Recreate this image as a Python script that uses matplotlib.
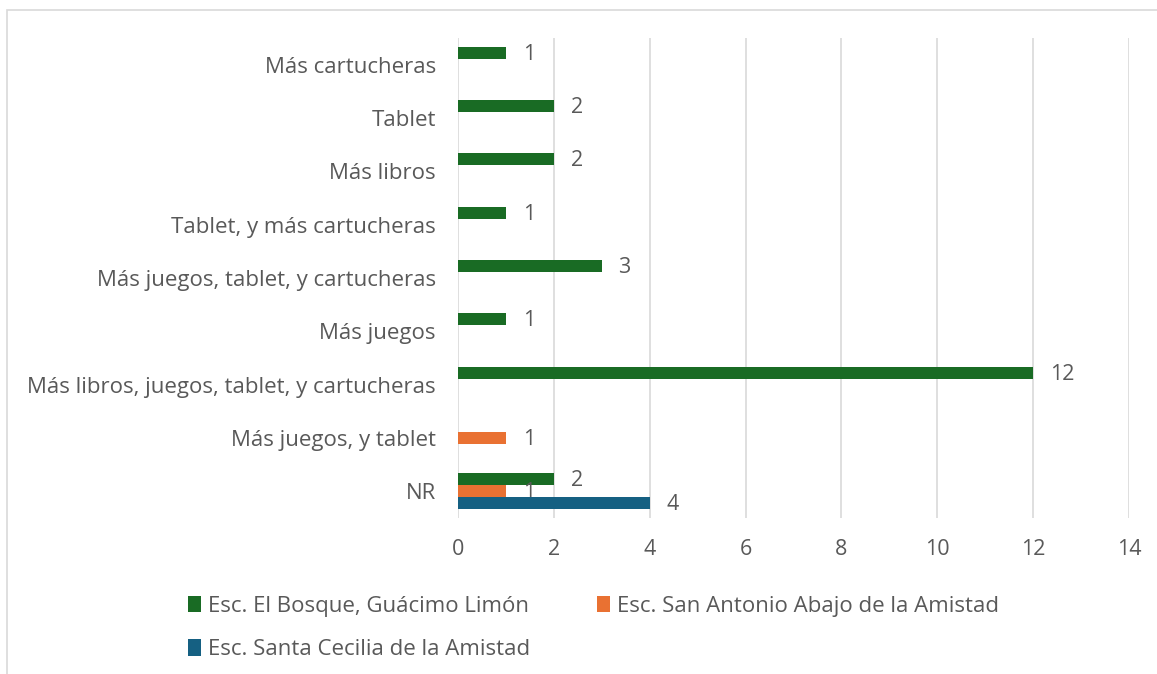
import numpy as np
import matplotlib.pyplot as plt
from matplotlib.patches import Rectangle

categories = ['Más cartucheras', 'Tablet', 'Más libros', 'Tablet, y más cartucheras',
              'Más juegos, tablet, y cartucheras', 'Más juegos',
              'Más libros, juegos, tablet, y cartucheras', 'Más juegos, y tablet', 'NR']
series_names = ['Esc. El Bosque, Guácimo Limón', 'Esc. San Antonio Abajo de la Amistad',
                'Esc. Santa Cecilia de la Amistad']
bosque = [1, 2, 2, 1, 3, 1, 12, 0, 2]
san_antonio = [0, 0, 0, 0, 0, 0, 0, 1, 1]
santa_cecilia = [0, 0, 0, 0, 0, 0, 0, 0, 4]
colors = ['#196B24', '#E97132', '#156082']
text_col = '#595959'

plt.rcParams['font.family'] = ['Open Sans', 'DejaVu Sans']

fig = plt.figure(figsize=(11.57, 6.74), dpi=100)
ax = fig.add_axes([458 / 1157, 1 - 518 / 674, 671 / 1157, 480 / 674])

# outer chart border (clipped by the page)
fig.patches.append(Rectangle((7 / 1157, -0.1), 1.2, 1 - 10 / 674 + 0.1,
                             transform=fig.transFigure, fill=False,
                             edgecolor='#D9D9D9', linewidth=1.2))

y = np.arange(len(categories))
h = 0.225
bars = []
for i, (vals, col) in enumerate(zip([bosque, san_antonio, santa_cecilia], colors)):
    b = ax.barh(y + (i - 1) * h, vals, height=h, color=col, label=series_names[i], zorder=3)
    bars.append(b)
    for yy, v in zip(y + (i - 1) * h, vals):
        if v:
            ax.annotate(str(v), (v, yy), xytext=(12, -1), textcoords='offset points',
                        va='center', ha='left', fontsize=15.5, color=text_col)

ax.set_xlim(0, 14)
ax.set_xticks(range(0, 15, 2))
ax.set_ylim(len(categories) - 0.5, -0.5)
ax.set_yticks(y)
ax.set_yticklabels(categories)
ax.tick_params(length=0, labelsize=15.5, labelcolor=text_col)
ax.tick_params(axis='y', labelsize=16, pad=16)
ax.tick_params(axis='x', pad=15)
ax.grid(axis='x', color='#D9D9D9', linewidth=1.2, zorder=0)
for s in ax.spines.values():
    s.set_visible(False)

leg = fig.legend([bars[0], bars[2], bars[1]], [series_names[0], series_names[2], series_names[1]],
                 ncol=2, loc='upper left', bbox_to_anchor=(168 / 1157, 1 - 576 / 674),
                 frameon=False, fontsize=16, handlelength=0.6, handleheight=0.75,
                 handletextpad=0.3, columnspacing=3.0, labelspacing=1.0, labelcolor=text_col)

fig.savefig('out.png', dpi=100)
